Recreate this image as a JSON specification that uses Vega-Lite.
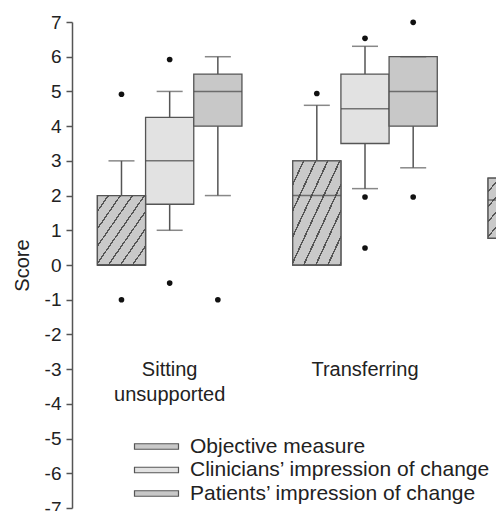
{
  "$schema": "https://vega.github.io/schema/vega-lite/v6.json",
  "width": 424,
  "height": 486,
  "autosize": {"type": "none"},
  "padding": {"left": 72, "top": 22, "right": 0, "bottom": 3},
  "background": "white",
  "config": {
    "view": {"stroke": null},
    "font": "Liberation Sans",
    "axis": {"grid": false}
  },
  "datasets": {
    "boxes": [
      {"group": "Sitting unsupported", "measure": "Objective measure", "lower": 0, "q1": 0, "median": 0, "q3": 2, "upper": 3},
      {"group": "Sitting unsupported", "measure": "Clinicians’ impression of change", "lower": 1, "q1": 1.75, "median": 3, "q3": 4.25, "upper": 5},
      {"group": "Sitting unsupported", "measure": "Patients’ impression of change", "lower": 2, "q1": 4, "median": 5, "q3": 5.5, "upper": 6},
      {"group": "Transferring", "measure": "Objective measure", "lower": 0, "q1": 0, "median": 2, "q3": 3, "upper": 4.6},
      {"group": "Transferring", "measure": "Clinicians’ impression of change", "lower": 2.2, "q1": 3.5, "median": 4.5, "q3": 5.5, "upper": 6.3},
      {"group": "Transferring", "measure": "Patients’ impression of change", "lower": 2.8, "q1": 4, "median": 5, "q3": 6, "upper": 6},
      {"group": "Group 3", "measure": "Objective measure", "lower": 0.77, "q1": 0.77, "median": 1.87, "q3": 2.5, "upper": 2.5}
    ],
    "outliers": [
      {"group": "Sitting unsupported", "measure": "Objective measure", "value": 4.92},
      {"group": "Sitting unsupported", "measure": "Objective measure", "value": -1},
      {"group": "Sitting unsupported", "measure": "Clinicians’ impression of change", "value": 5.92},
      {"group": "Sitting unsupported", "measure": "Clinicians’ impression of change", "value": -0.52},
      {"group": "Sitting unsupported", "measure": "Patients’ impression of change", "value": -1},
      {"group": "Transferring", "measure": "Objective measure", "value": 4.94},
      {"group": "Transferring", "measure": "Clinicians’ impression of change", "value": 6.53},
      {"group": "Transferring", "measure": "Clinicians’ impression of change", "value": 1.96},
      {"group": "Transferring", "measure": "Clinicians’ impression of change", "value": 0.49},
      {"group": "Transferring", "measure": "Patients’ impression of change", "value": 6.99},
      {"group": "Transferring", "measure": "Patients’ impression of change", "value": 1.96}
    ],
    "labels": [
      {"group": "Sitting unsupported", "label": "Sitting\nunsupported"},
      {"group": "Transferring", "label": "Transferring"}
    ]
  },
  "layer": [
    {
      "data": {"name": "boxes"},
      "mark": {"type": "rule", "color": "#555", "strokeWidth": 1.5},
      "encoding": {
        "x": {
          "field": "group", "type": "nominal",
          "scale": {"domain": ["Sitting unsupported", "Transferring", "Group 3"], "range": [0, 586], "paddingInner": 0.26, "paddingOuter": 0.13},
          "axis": null
        },
        "xOffset": {
          "field": "measure", "type": "nominal",
          "scale": {"domain": ["Objective measure", "Clinicians’ impression of change", "Patients’ impression of change"], "paddingInner": 0, "paddingOuter": 0}
        },
        "y": {"field": "lower", "type": "quantitative",
          "scale": {"domain": [-7, 7], "nice": false, "zero": false},
          "axis": {
            "values": [-7, -6, -5, -4, -3, -2, -1, 0, 1, 2, 3, 4, 5, 6, 7],
            "tickCount": 20,
            "labelOverlap": false,
            "labelExpr": "datum.value < 0 ? '-' + abs(datum.value) : '' + datum.value",
            "title": "Score", "titleFontSize": 20, "titleFontWeight": "normal", "titleColor": "#222", "titlePadding": 12,
            "labelFontSize": 19, "labelColor": "#222", "labelPadding": 5,
            "domainColor": "#555", "domainWidth": 1.5, "tickColor": "#555", "tickWidth": 1.5, "tickSize": 6
          }
        },
        "y2": {"field": "upper"}
      }
    },
    {
      "data": {"name": "boxes"},
      "mark": {"type": "bar", "stroke": "#555", "strokeWidth": 1.3},
      "encoding": {
        "x": {"field": "group", "type": "nominal"},
        "xOffset": {"field": "measure", "type": "nominal"},
        "y": {"field": "q1", "type": "quantitative"},
        "y2": {"field": "q3"},
        "fill": {
          "field": "measure", "type": "nominal",
          "scale": {
            "domain": ["Objective measure", "Clinicians’ impression of change", "Patients’ impression of change"],
            "range": ["#c9c9c9", "#e2e2e2", "#c8c8c8"]
          },
          "legend": {
            "orient": "none", "legendX": 74, "legendY": 414, "title": null, "padding": 0,
            "symbolType": "M-4.4,-0.55H4.4V0.55H-4.4Z", "symbolSize": 100,
            "symbolStrokeColor": "#555", "symbolStrokeWidth": 1.2, "symbolOpacity": 1,
            "labelFontSize": 21, "labelColor": "#222", "labelOffset": 23, "labelLimit": 400,
            "rowPadding": 1.5,
            "encode": {
              "symbols": {
                "update": {
                  "stroke": {"value": "#555"},
                  "strokeWidth": {"value": 1.2},
                  "opacity": {"value": 1},
                  "fill": [
                    {"test": "datum.value === 'Objective measure'", "value": {"gradient": "linear", "x1": 0, "y1": 0, "x2": 1, "y2": 0.14, "stops": [
                      {"offset": 0, "color": "#c9c9c9"}, {"offset": 0.2, "color": "#c9c9c9"}, {"offset": 0.2, "color": "#555555"}, {"offset": 0.24, "color": "#555555"}, {"offset": 0.24, "color": "#c9c9c9"},
                      {"offset": 0.45, "color": "#c9c9c9"}, {"offset": 0.45, "color": "#555555"}, {"offset": 0.49, "color": "#555555"}, {"offset": 0.49, "color": "#c9c9c9"},
                      {"offset": 0.7, "color": "#c9c9c9"}, {"offset": 0.7, "color": "#555555"}, {"offset": 0.74, "color": "#555555"}, {"offset": 0.74, "color": "#c9c9c9"},
                      {"offset": 0.95, "color": "#c9c9c9"}, {"offset": 0.95, "color": "#555555"}, {"offset": 0.99, "color": "#555555"}, {"offset": 0.99, "color": "#c9c9c9"}, {"offset": 1, "color": "#c9c9c9"}
                    ]}},
                    {"test": "datum.value === 'Clinicians’ impression of change'", "value": "#e2e2e2"},
                    {"value": "#c8c8c8"}
                  ]
                }
              }
            }
          }
        }
      }
    },
    {
      "data": {"name": "boxes"},
      "transform": [{"filter": "datum.measure === 'Objective measure'"}],
      "mark": {"type": "bar", "stroke": "#555", "strokeWidth": 1.3,
        "fill": {"gradient": "linear", "x1": 0, "y1": 0, "x2": 1, "y2": 1, "stops": [
          {"offset": 0, "color": "#c9c9c9"}, {"offset": 0.105, "color": "#c9c9c9"}, {"offset": 0.105, "color": "#555555"}, {"offset": 0.122, "color": "#555555"}, {"offset": 0.122, "color": "#c9c9c9"},
          {"offset": 0.23, "color": "#c9c9c9"}, {"offset": 0.23, "color": "#555555"}, {"offset": 0.247, "color": "#555555"}, {"offset": 0.247, "color": "#c9c9c9"},
          {"offset": 0.355, "color": "#c9c9c9"}, {"offset": 0.355, "color": "#555555"}, {"offset": 0.372, "color": "#555555"}, {"offset": 0.372, "color": "#c9c9c9"},
          {"offset": 0.48, "color": "#c9c9c9"}, {"offset": 0.48, "color": "#555555"}, {"offset": 0.497, "color": "#555555"}, {"offset": 0.497, "color": "#c9c9c9"},
          {"offset": 0.605, "color": "#c9c9c9"}, {"offset": 0.605, "color": "#555555"}, {"offset": 0.622, "color": "#555555"}, {"offset": 0.622, "color": "#c9c9c9"},
          {"offset": 0.73, "color": "#c9c9c9"}, {"offset": 0.73, "color": "#555555"}, {"offset": 0.747, "color": "#555555"}, {"offset": 0.747, "color": "#c9c9c9"},
          {"offset": 0.855, "color": "#c9c9c9"}, {"offset": 0.855, "color": "#555555"}, {"offset": 0.872, "color": "#555555"}, {"offset": 0.872, "color": "#c9c9c9"},
          {"offset": 0.98, "color": "#c9c9c9"}, {"offset": 0.98, "color": "#555555"}, {"offset": 0.997, "color": "#555555"}, {"offset": 0.997, "color": "#c9c9c9"}, {"offset": 1, "color": "#c9c9c9"}
        ]}
      },
      "encoding": {
        "x": {"field": "group", "type": "nominal"},
        "xOffset": {"field": "measure", "type": "nominal"},
        "y": {"field": "q1", "type": "quantitative"},
        "y2": {"field": "q3"}
      }
    },
    {
      "data": {"name": "boxes"},
      "mark": {"type": "tick", "orient": "horizontal", "size": 48, "thickness": 1.5, "color": "#444"},
      "encoding": {
        "x": {"field": "group", "type": "nominal"},
        "xOffset": {"field": "measure", "type": "nominal"},
        "y": {"field": "median", "type": "quantitative"}
      }
    },
    {
      "data": {"name": "boxes"},
      "mark": {"type": "tick", "orient": "horizontal", "size": 26, "thickness": 1.5, "color": "#555"},
      "encoding": {
        "x": {"field": "group", "type": "nominal"},
        "xOffset": {"field": "measure", "type": "nominal"},
        "y": {"field": "lower", "type": "quantitative"}
      }
    },
    {
      "data": {"name": "boxes"},
      "mark": {"type": "tick", "orient": "horizontal", "size": 26, "thickness": 1.5, "color": "#555"},
      "encoding": {
        "x": {"field": "group", "type": "nominal"},
        "xOffset": {"field": "measure", "type": "nominal"},
        "y": {"field": "upper", "type": "quantitative"}
      }
    },
    {
      "data": {"name": "outliers"},
      "mark": {"type": "point", "filled": true, "color": "#111", "size": 32, "opacity": 1},
      "encoding": {
        "x": {"field": "group", "type": "nominal"},
        "xOffset": {"field": "measure", "type": "nominal"},
        "y": {"field": "value", "type": "quantitative"}
      }
    },
    {
      "data": {"name": "labels"},
      "mark": {"type": "text", "fontSize": 20, "color": "#222", "lineBreak": "\n", "lineHeight": 25, "baseline": "alphabetic", "align": "center"},
      "encoding": {
        "x": {"field": "group", "type": "nominal", "bandPosition": 0.5},
        "y": {"datum": -3.2, "type": "quantitative"},
        "text": {"field": "label"}
      }
    }
  ]
}
